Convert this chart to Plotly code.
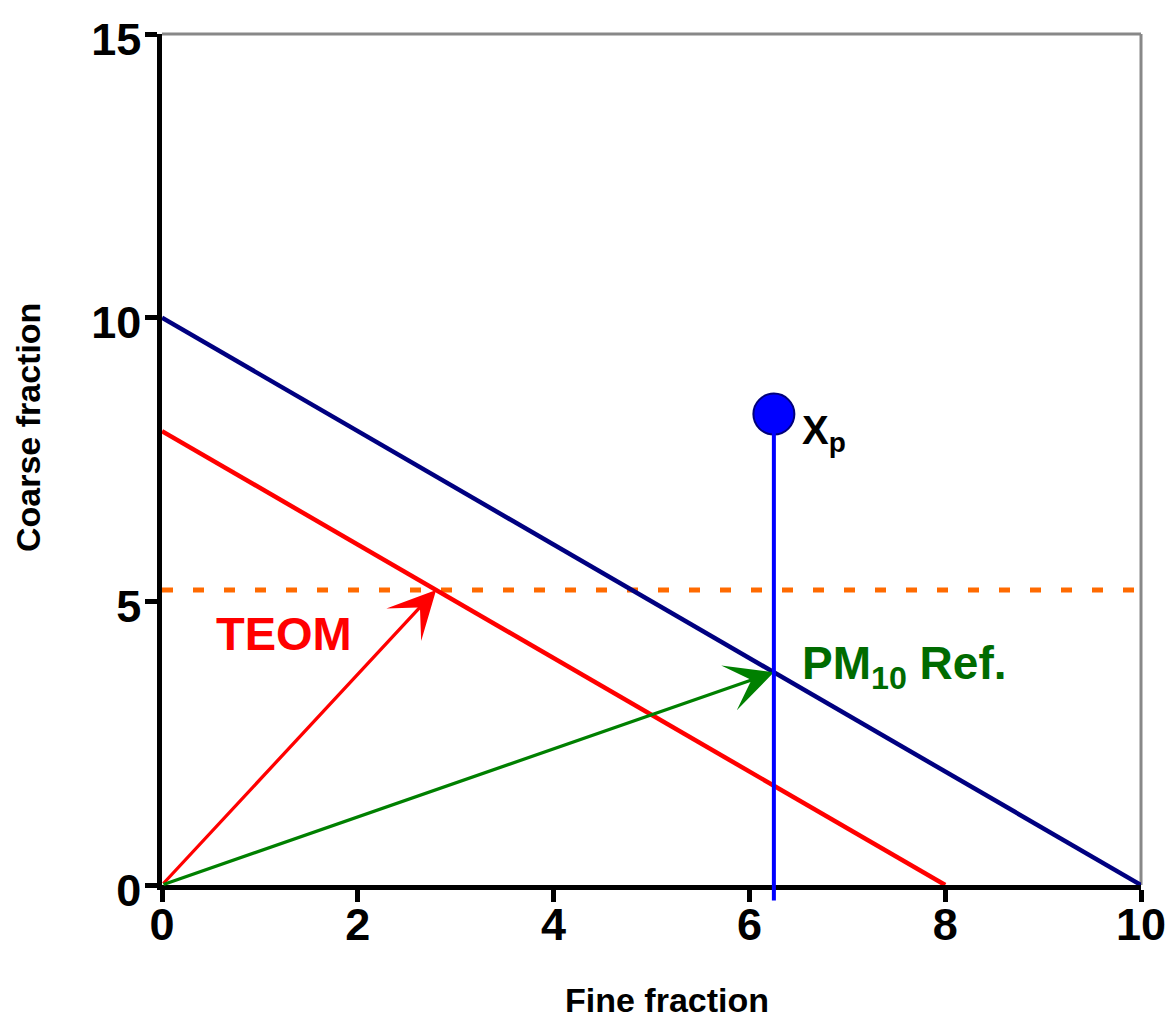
import plotly.graph_objects as go

# Tick positions
x_ticks = [0, 2, 4, 6, 8, 10]
y_ticks = [0, 5, 10, 15]

# Lines of constant total mass (fine + coarse = const)
ref_total_fine = [0, 10]
ref_total_coarse = [10, 0]
teom_total_fine = [0, 8]
teom_total_coarse = [8, 0]

# Horizontal coarse level
level_fine = [0, 10]
level_coarse = [5.2, 5.2]

# Sample point Xp and its stem
xp_fine = 6.25
xp_coarse = 8.3
stem_base = -0.3

# Arrow end points (from the origin)
origin = [0, 0]
teom_point = [2.8, 5.2]
ref_point = [6.25, 3.75]

# Label anchors (data units)
teom_label = [1.246, 4.43]
ref_label = [6.52, 3.86]
xp_label = [6.52, 7.96]

FONT = "Arial, 'Liberation Sans', sans-serif"

fig = go.Figure()

fig.add_trace(go.Scatter(
    x=level_fine, y=level_coarse, mode="lines",
    line=dict(color="#FF6A00", width=5, dash="11px,20px"),
    hoverinfo="skip"))
fig.add_trace(go.Scatter(
    x=ref_total_fine, y=ref_total_coarse, mode="lines",
    line=dict(color="#000080", width=4.5), hoverinfo="skip"))
fig.add_trace(go.Scatter(
    x=teom_total_fine, y=teom_total_coarse, mode="lines",
    line=dict(color="#FF0000", width=4.5), hoverinfo="skip"))
fig.add_trace(go.Scatter(
    x=[xp_fine], y=[xp_coarse], mode="markers", cliponaxis=False,
    marker=dict(size=41, color="#0000FF", line=dict(color="#00007A", width=2)),
    hoverinfo="skip"))

annotations = [
    # TEOM arrow
    dict(x=teom_point[0], y=teom_point[1], ax=origin[0], ay=origin[1],
         xref="x", yref="y", axref="x", ayref="y", text="",
         showarrow=True, arrowhead=3, arrowsize=2.4, arrowwidth=3.3,
         arrowcolor="#FF0000", standoff=0),
    # PM10 reference arrow
    dict(x=ref_point[0], y=ref_point[1], ax=origin[0], ay=origin[1],
         xref="x", yref="y", axref="x", ayref="y", text="",
         showarrow=True, arrowhead=3, arrowsize=2.4, arrowwidth=3.3,
         arrowcolor="#008000", standoff=0),
    # vertical stem under Xp
    dict(x=xp_fine, y=xp_coarse, ax=xp_fine, ay=stem_base,
         xref="x", yref="y", axref="x", ayref="y", text="",
         showarrow=True, arrowhead=0, arrowwidth=4,
         arrowcolor="#0000FF", standoff=19),
    dict(x=teom_label[0], y=teom_label[1], xref="x", yref="y",
         text="TEOM", showarrow=False, xanchor="center", yanchor="middle",
         font=dict(family=FONT, size=47, color="#FF0000", weight="bold")),
    dict(x=ref_label[0], y=ref_label[1], xref="x", yref="y",
         text="PM<sub>10</sub> Ref.", showarrow=False, xanchor="left", yanchor="middle",
         font=dict(family=FONT, size=46, color="#006B00", weight="bold")),
    dict(x=xp_label[0], y=xp_label[1], xref="x", yref="y",
         text="X<sub>p</sub>", showarrow=False, xanchor="left", yanchor="middle",
         font=dict(family=FONT, size=40, color="#000000", weight="bold")),
    # axis titles
    dict(x=0.516, y=-0.135, xref="paper", yref="paper",
         text="Fine fraction", showarrow=False, xanchor="center", yanchor="middle",
         font=dict(family=FONT, size=34, color="#000000", weight="bold")),
    dict(x=-0.137, y=0.538, xref="paper", yref="paper", textangle=-90,
         text="Coarse fraction", showarrow=False, xanchor="center", yanchor="middle",
         font=dict(family=FONT, size=34, color="#000000", weight="bold")),
]

axis_common = dict(
    showgrid=False, zeroline=False, showline=True, linecolor="#000000",
    linewidth=4.5, ticks="outside", ticklen=12, tickwidth=5,
    tickcolor="#000000", layer="below traces", automargin=False,
    tickfont=dict(family=FONT, size=45, color="#000000", weight="bold"),
)

fig.update_layout(
    width=1168, height=1019,
    margin=dict(l=162, r=27, t=34, b=134, autoexpand=False),
    paper_bgcolor="#FFFFFF", plot_bgcolor="#FFFFFF",
    showlegend=False,
    xaxis=dict(range=[0, 10], tickvals=x_ticks, ticklabelstandoff=-16, **axis_common),
    yaxis=dict(range=[0, 15], tickvals=y_ticks, ticklabelshift=5,
               ticklabelstandoff=-5, **axis_common),
    annotations=annotations,
    shapes=[
        dict(type="line", xref="paper", yref="paper", x0=0, x1=1, y0=1, y1=1,
             line=dict(color="#888888", width=3), layer="below"),
        dict(type="line", xref="paper", yref="paper", x0=1, x1=1, y0=0, y1=1,
             line=dict(color="#888888", width=3), layer="below"),
    ],
)

fig.write_html("out.html")
